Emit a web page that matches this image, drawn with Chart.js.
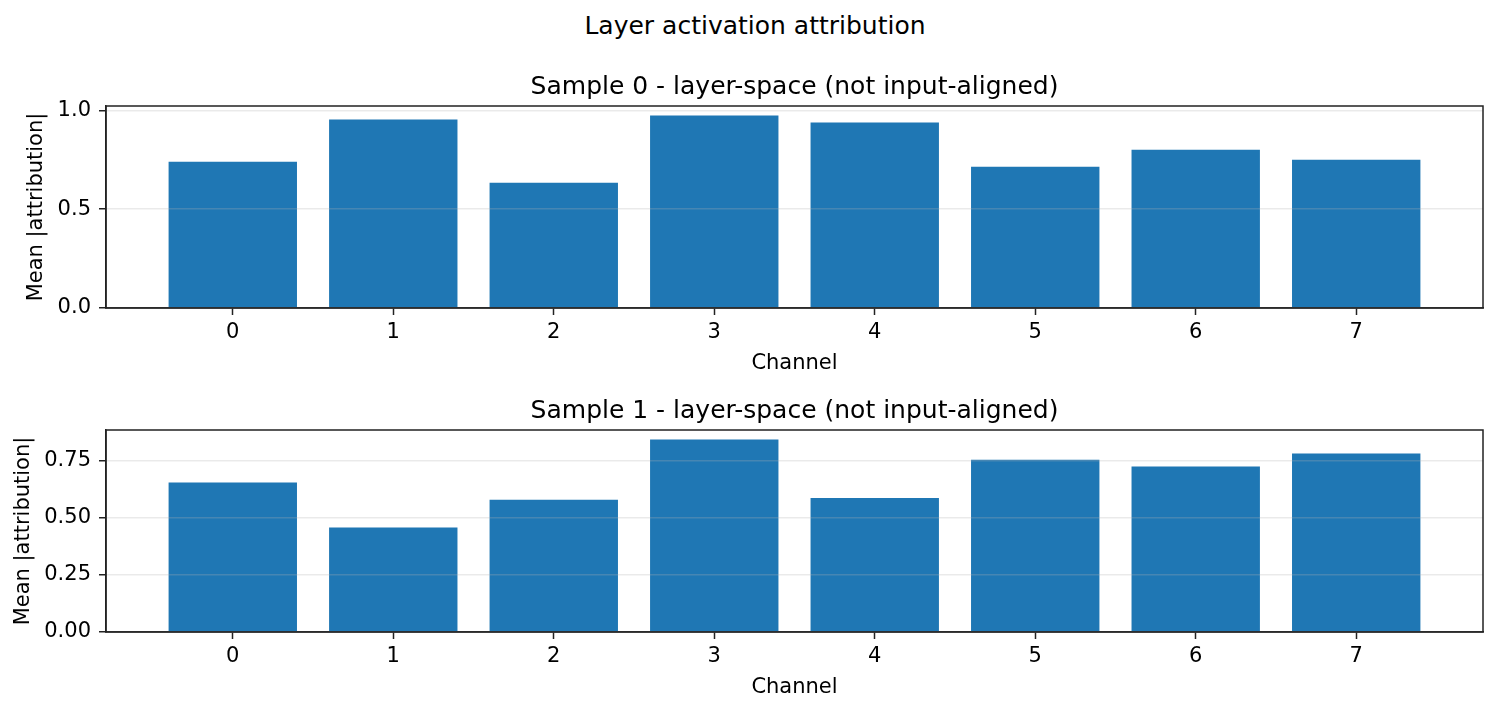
<!DOCTYPE html>
<html>
<head>
<meta charset="utf-8">
<script src="https://cdn.jsdelivr.net/npm/chart.js@4"></script>
<style>
  body { margin: 0; background: #fff; }
  #page { position: relative; width: 1498px; height: 711px; font-family: 'DejaVu Sans'; }
  #suptitle { position: absolute; top: 11px; left: 755px; transform: translateX(-50%);
              font-size: 25px; line-height: 30px; color: #000; white-space: nowrap; }
  .box { position: absolute; left: 0; width: 1498px; height: 324px; }
</style>
</head>
<body>
<div id="page">
  <div id="suptitle">Layer activation attribution</div>
  <div class="box" style="top:56px"><canvas id="chart0"></canvas></div>
  <div class="box" style="top:380px"><canvas id="chart1"></canvas></div>
</div>
<script>
// channel indices on x
var channels = [0, 1, 2, 3, 4, 5, 6, 7];

// mean |attribution| per channel
var sample0 = [0.740, 0.953, 0.634, 0.973, 0.938, 0.715, 0.801, 0.750];
var sample1 = [0.654, 0.457, 0.579, 0.842, 0.587, 0.754, 0.724, 0.781];

var ticks0 = [0.0, 0.5, 1.0];
var ticks1 = [0.00, 0.25, 0.50, 0.75];

var titles = ['Sample 0 - layer-space (not input-aligned)', 'Sample 1 - layer-space (not input-aligned)'];

Chart.defaults.font.family = 'DejaVu Sans';
Chart.defaults.color = '#000';
Chart.defaults.animation = false;

var spineColor = '#222';

// full box round the plot area, and the subplot title centred over it
var frame = {
    id: 'frame',
    afterDraw(chart, args, opts) {
        var a = chart.chartArea;
        var ctx = chart.ctx;
        ctx.save();
        ctx.strokeStyle = spineColor;
        ctx.lineWidth = 1.5;
        ctx.strokeRect(a.left, a.top, a.right - a.left, a.bottom - a.top);
        ctx.fillStyle = '#000';
        ctx.font = '25px "DejaVu Sans"';
        ctx.textAlign = 'center';
        ctx.textBaseline = 'middle';
        ctx.fillText(opts.text, (a.left + a.right) / 2, 31.5);
        ctx.restore();
    }
};

function make_chart(id, title, values, yticks, decimals, ytitlePad) {
    var span = channels[channels.length - 1] - channels[0] + 0.8;
    var xmin = channels[0] - 0.4 - 0.05 * span;
    var xmax = channels[channels.length - 1] + 0.4 + 0.05 * span;
    var ymax = Math.max(...values) * 1.05;

    return new Chart(document.getElementById(id), {
        type: 'bar',
        data: {
            datasets: [{
                data: values.map((v, i) => ({x: channels[i], y: v})),
                backgroundColor: '#1f77b4',
                borderWidth: 0,
                barPercentage: 0.8,
                categoryPercentage: 1.0
            }]
        },
        options: {
            responsive: true,
            maintainAspectRatio: false,
            layout: { padding: { left: 0, right: 15, top: 50, bottom: 0 } },
            plugins: {
                legend: { display: false },
                tooltip: { enabled: false },
                title: { display: false },
                frame: { text: title }
            },
            scales: {
                x: {
                    type: 'linear',
                    offset: false,
                    min: xmin,
                    max: xmax,
                    afterBuildTicks: s => { s.ticks = channels.map(v => ({value: v})); },
                    afterFit: s => { s.height = 72; },
                    ticks: {
                        font: { size: 21 },
                        padding: 5,
                        callback: v => String(v)
                    },
                    grid: { offset: false, drawOnChartArea: false, drawTicks: true, tickLength: 7, tickColor: spineColor, tickWidth: 1.5 },
                    border: { display: true, color: spineColor, width: 1.5 },
                    title: { display: true, text: 'Channel', font: { size: 21 }, padding: { top: 0, bottom: 4 } }
                },
                y: {
                    min: 0,
                    max: ymax,
                    afterBuildTicks: s => { s.ticks = yticks.map(v => ({value: v})); },
                    afterFit: s => { s.width = 106; },
                    ticks: {
                        font: { size: 21 },
                        padding: 8,
                        callback: v => Number(v).toFixed(decimals)
                    },
                    grid: { color: 'rgba(176,176,176,0.27)', lineWidth: 1.5, z: 1,
                            drawTicks: true, tickLength: 7, tickColor: spineColor, tickWidth: 1.5 },
                    border: { display: true, color: spineColor, width: 1.5, z: 1 },
                    title: { display: true, text: 'Mean |attribution|', font: { size: 21 }, padding: { top: ytitlePad, bottom: 0 } }
                }
            }
        },
        plugins: [frame]
    });
}

make_chart('chart0', titles[0], sample0, ticks0, 1, 24);
make_chart('chart1', titles[1], sample1, ticks1, 2, 11);
</script>
</body>
</html>
